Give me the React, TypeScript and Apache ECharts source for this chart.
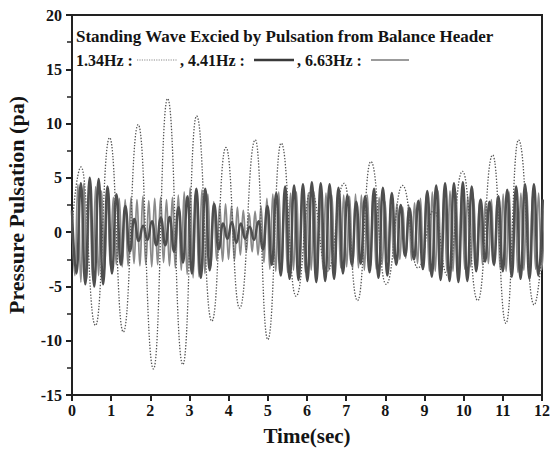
import React, { useEffect, useRef } from "react";
import * as echarts from "echarts";

// ---- axes ----
const X_MIN = 0;
const X_MAX = 12;
const X_INTERVAL = 1;
const Y_MIN = -15;
const Y_MAX = 20;
const Y_INTERVAL = 5;

const X_NAME = "Time(sec)";
const Y_NAME = "Pressure Pulsation (pa)";
const TITLE = "Standing Wave Excied by Pulsation from Balance Header";
const SERIES_NAMES = ["1.34Hz", "4.41Hz", "6.63Hz"];

// ---- 1.34 Hz : crests and troughs [time, value] ----
const wave134: [number, number][] = [
  [0, 0.5], [0.23, 6.0], [0.6, -8.6], [0.96, 8.7], [1.31, -9.2], [1.69, 9.9],
  [2.08, -12.6], [2.44, 12.3], [2.83, -12.2], [3.18, 10.7], [3.57, -8.2],
  [3.93, 7.8], [4.28, -7.0], [4.68, 8.5], [5.0, -9.9], [5.34, 8.2],
  [5.72, -5.9], [6.1, 3.8], [6.52, -3.6], [6.95, 4.5], [7.29, -6.3],
  [7.63, 6.5], [8.02, -4.8], [8.44, 4.3], [8.83, -3.3], [9.24, 2.0],
  [9.59, -4.0], [9.97, 5.6], [10.36, -6.3], [10.74, 7.1], [11.08, -8.4],
  [11.4, 8.5], [11.8, -6.7], [12.0, -1.5],
];

// ---- 4.41 Hz : successive crest / trough values (one every half period) ----
const STEP_441 = 0.1134;
const wave441Extrema: number[] = [
  2.0, -3.8, 4.5, -4.8, 5.0, -5.0, 4.9, -4.8, 4.2, -3.8,
  3.5, -3.0, 2.4, -1.8, 1.2, -0.8, 0.6, -0.7, 1.0, -1.2,
  1.3, -1.2, 1.4, -1.8, 2.3, -2.8, 3.3, -3.8, 4.0, -4.2,
  4.0, -3.5, 2.6, -1.6, 0.8, -0.6, 0.9, -1.0, 0.8, -0.6,
  0.5, -0.7, 1.0, -1.6, 2.4, -3.0, 3.6, -4.0, 4.2, -4.3,
  4.3, -4.4, 4.4, -4.5, 4.6, -4.6, 4.5, -4.5, 4.4, -4.3,
  4.1, -3.8, 3.4, -3.0, 2.8, -2.9, 3.3, -3.7, 4.0, -4.2,
  4.1, -4.0, 3.6, -3.0, 2.5, -2.2, 2.2, -2.5, 2.9, -3.4,
  3.8, -4.1, 4.3, -4.4, 4.5, -4.5, 4.5, -4.6, 4.6, -4.5,
  4.2, -3.6, 3.0, -2.7, 2.8, -3.0, 3.3, -3.6, 3.9, -4.1,
  4.2, -4.3, 4.4, -4.3, 4.4, -4.0, 3.0,
];

// ---- 6.63 Hz : successive crest / trough values (one every half period) ----
const STEP_663 = 0.0754;
const wave663Extrema: number[] = [
  1.5, -4.0, 4.4, -4.6, 4.5, -4.3, 4.6, -4.4, 4.2, -4.0,
  3.8, -3.5, 3.3, -3.1, 3.2, -3.0, 3.1, -3.2, 3.0, -3.1,
  3.2, -2.9, 3.0, -3.1, 3.3, -3.0, 2.9, -3.2, 3.1, -3.0,
  3.2, -2.8, 3.0, -3.1, 3.2, -3.3, 3.4, -3.5, 3.7, -3.9,
  4.1, -4.2, 4.0, -4.1, 3.9, -3.8, 3.5, -3.1, 2.8, -2.6,
  2.5, -2.7, 2.6, -2.5, 2.4, -2.6, 2.3, -2.1, 2.0, -1.8,
  1.7, -1.8, 1.9, -2.1, 2.4, -2.8, 3.1, -3.4, 3.5, -3.6,
  3.7, -3.6, 3.5, -3.7, 3.6, -3.5, 3.7, -3.6, 3.8, -3.7,
  3.6, -3.5, 3.7, -3.6, 3.5, -3.4, 3.6, -3.5, 3.4, -3.6,
  3.5, -3.3, 3.4, -3.2, 3.3, -3.4, 3.5, -3.3, 3.4, -3.5,
  3.4, -3.3, 3.5, -3.4, 3.2, -3.0, 2.8, -2.6, 2.5, -2.4,
  2.6, -2.5, 2.3, -2.4, 2.5, -2.6, 2.7, -2.9, 3.1, -3.3,
  3.5, -3.6, 3.7, -3.6, 3.8, -3.7, 3.6, -3.7, 3.8, -3.6,
  3.7, -3.5, 3.6, -3.4, 3.3, -3.2, 3.1, -3.0, 2.9, -3.0,
  2.8, -2.9, 3.0, -3.1, 3.2, -3.4, 3.5, -3.6, 3.7, -3.6,
  3.5, -3.7, 3.6, -3.5, 3.7, -3.6, 3.5, -3.4, 3.6, -3.5,
  2.0,
];

const FONT = "Liberation Serif";
const INK = "#141414";

export default function App() {
  const ref = useRef<HTMLDivElement>(null);

  useEffect(() => {
    if (!ref.current) return;
    const chart = echarts.init(ref.current, undefined, { renderer: "svg" });

    const d441 = wave441Extrema.map((v, i) => [i * STEP_441, v]);
    const d663 = wave663Extrema.map((v, i) => [i * STEP_663, v]);

    const labelStyle = {
      fontFamily: FONT,
      fontWeight: "bold" as const,
      color: INK,
      fontSize: 16,
    };

    const textEl = (x: number, y: number, text: string, size: number) => ({
      type: "text",
      x,
      y,
      z: 100,
      style: {
        text,
        fontFamily: FONT,
        fontWeight: "bold",
        fontSize: size,
        fill: INK,
        verticalAlign: "middle",
        align: "left",
      },
    });

    chart.setOption({
      animation: false,
      backgroundColor: "#ffffff",
      grid: {
        left: 72,
        right: 9,
        top: 15,
        bottom: 58,
        show: true,
        borderColor: "#222",
        borderWidth: 2,
        backgroundColor: "transparent",
        containLabel: false,
        outerBoundsMode: "none",
      },
      xAxis: {
        type: "value",
        min: X_MIN,
        max: X_MAX,
        interval: X_INTERVAL,
        name: X_NAME,
        nameLocation: "middle",
        nameGap: 30,
        nameTextStyle: { ...labelStyle, fontSize: 21 },
        axisLine: { onZero: false, lineStyle: { color: "#222", width: 2 } },
        axisTick: { inside: false, length: 6, lineStyle: { color: "#222", width: 2 } },
        axisLabel: { ...labelStyle, margin: 7 },
        splitLine: { show: false },
      },
      yAxis: {
        type: "value",
        min: Y_MIN,
        max: Y_MAX,
        interval: Y_INTERVAL,
        name: Y_NAME,
        nameLocation: "middle",
        nameGap: 45,
        nameTextStyle: { ...labelStyle, fontSize: 22 },
        axisLine: { onZero: false, lineStyle: { color: "#222", width: 2 } },
        axisTick: { inside: false, length: 6, lineStyle: { color: "#222", width: 2 } },
        minorTick: { show: true, splitNumber: 2, length: 5, lineStyle: { color: "#222", width: 1.5 } },
        axisLabel: { ...labelStyle, margin: 10 },
        splitLine: { show: false },
      },
      series: [
        {
          name: SERIES_NAMES[2],
          type: "line",
          data: d663,
          smooth: 0.5,
          smoothMonotone: "x",
          showSymbol: false,
          lineStyle: { color: "#8a8a8a", width: 1.8 },
          z: 2,
        },
        {
          name: SERIES_NAMES[1],
          type: "line",
          data: d441,
          smooth: 0.5,
          smoothMonotone: "x",
          showSymbol: false,
          lineStyle: { color: "#4e4e4e", width: 2.5 },
          z: 3,
        },
        {
          name: SERIES_NAMES[0],
          type: "line",
          data: wave134,
          smooth: 0.5,
          smoothMonotone: "x",
          showSymbol: false,
          lineStyle: { color: "#555555", width: 1.3, type: [1.4, 1.6] },
          z: 4,
        },
      ],
      graphic: [
        textEl(76, 36, TITLE, 17),
        textEl(76, 60, `${SERIES_NAMES[0]} :`, 16),
        {
          type: "line",
          z: 100,
          shape: { x1: 137, y1: 60, x2: 177, y2: 60 },
          style: { stroke: "#8a8a8a", lineWidth: 1.2, lineDash: [1.2, 1.2] },
        },
        textEl(180, 60, `, ${SERIES_NAMES[1]} :`, 16),
        {
          type: "line",
          z: 100,
          shape: { x1: 254, y1: 60, x2: 294, y2: 60 },
          style: { stroke: "#3a3a3a", lineWidth: 2.6 },
        },
        textEl(297, 60, `, ${SERIES_NAMES[2]} :`, 16),
        {
          type: "line",
          z: 100,
          shape: { x1: 371, y1: 60, x2: 409, y2: 60 },
          style: { stroke: "#7a7a7a", lineWidth: 1.4 },
        },
      ],
    });

    return () => chart.dispose();
  }, []);

  return (
    <div
      ref={ref}
      style={{ position: "fixed", left: 0, top: 0, width: 551, height: 453, background: "#fff" }}
    />
  );
}
